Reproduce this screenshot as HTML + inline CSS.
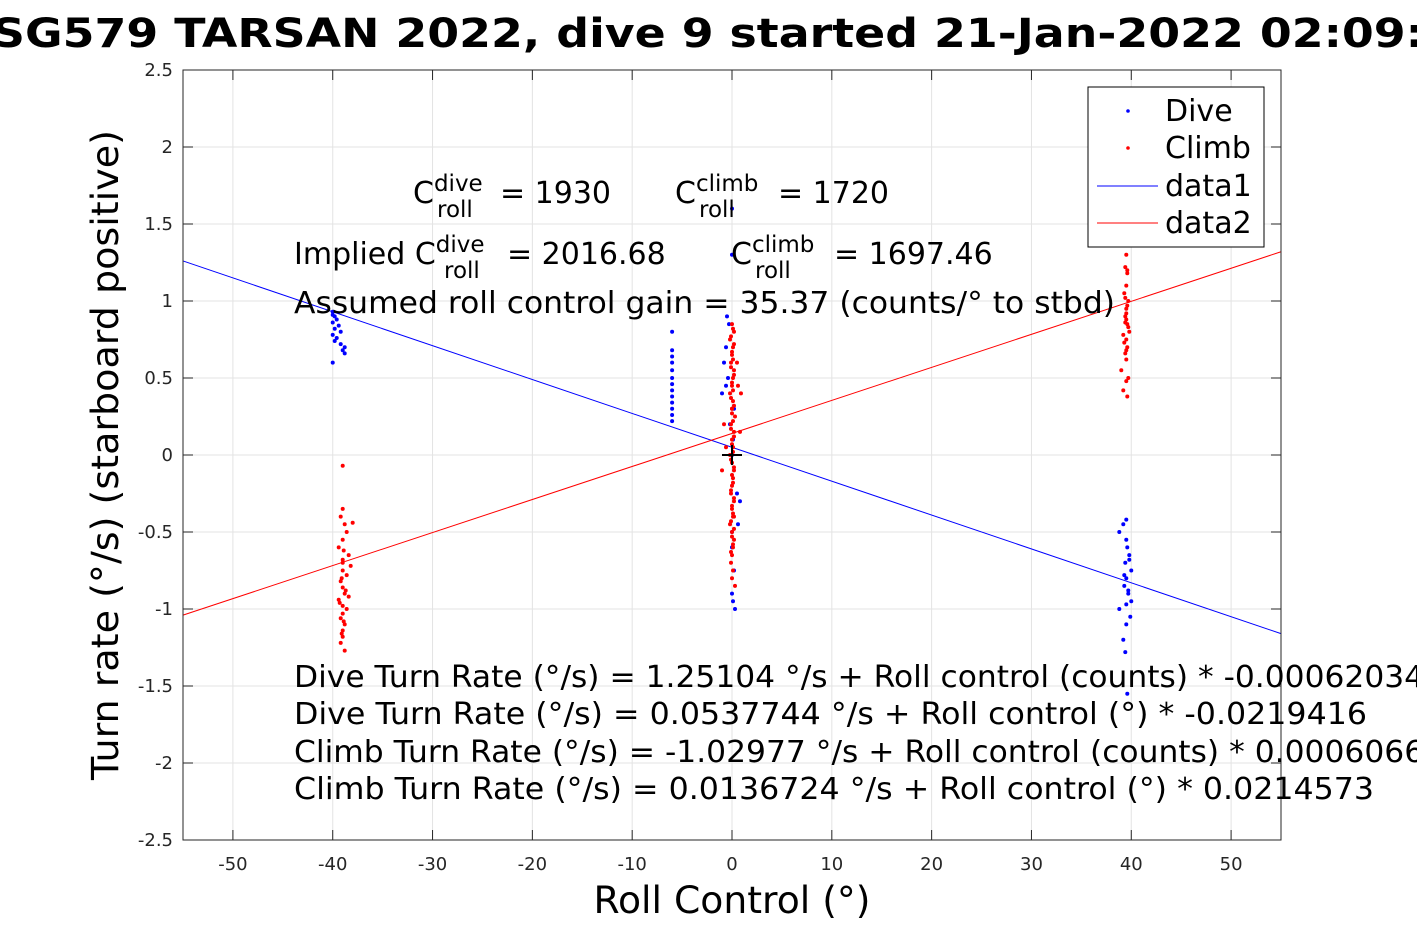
<!DOCTYPE html>
<html><head><meta charset="utf-8"><style>
html,body{margin:0;padding:0;background:#fff;}
svg{display:block;font-family:"DejaVu Sans","Liberation Sans",sans-serif;}
</style></head><body>
<svg id="chart" width="1417" height="945" viewBox="0 0 1417 945" xmlns="http://www.w3.org/2000/svg">
<rect width="1417" height="945" fill="#fff"/>
<text x="-8" y="47" font-size="40" font-weight="bold" fill="#000" textLength="1432" lengthAdjust="spacingAndGlyphs">SG579 TARSAN 2022, dive 9 started 21-Jan-2022 02:09:</text>
<g id="grid"></g>
<g id="lines"></g>
<g id="points"></g>
<g id="axes"></g>
<g font-size="30" fill="#000">
<text x="413" y="203">C<tspan font-size="23" dy="-12">dive</tspan><tspan font-size="23" x="437" dy="26">roll</tspan><tspan x="500" dy="-14">= 1930</tspan></text>
<text x="675" y="203">C<tspan font-size="23" dy="-12">climb</tspan><tspan font-size="23" x="699" dy="26">roll</tspan><tspan x="778" dy="-14">= 1720</tspan></text>
<text x="294" y="264">Implied C<tspan font-size="23" dy="-12">dive</tspan><tspan font-size="23" x="444" dy="26">roll</tspan><tspan x="507" dy="-14">= 2016.68</tspan></text>
<text x="731" y="264">C<tspan font-size="23" dy="-12">climb</tspan><tspan font-size="23" x="755" dy="26">roll</tspan><tspan x="834" dy="-14">= 1697.46</tspan></text>
<text x="294" y="313" textLength="821" lengthAdjust="spacingAndGlyphs">Assumed roll control gain = 35.37 (counts/° to stbd)</text>
<text x="294" y="687" textLength="1150" lengthAdjust="spacingAndGlyphs">Dive Turn Rate (°/s) = 1.25104 °/s + Roll control (counts) * -0.000620348</text>
<text x="294" y="724" textLength="1073" lengthAdjust="spacingAndGlyphs">Dive Turn Rate (°/s) = 0.0537744 °/s + Roll control (°) * -0.0219416</text>
<text x="294" y="762" textLength="1170" lengthAdjust="spacingAndGlyphs">Climb Turn Rate (°/s) = -1.02977 °/s + Roll control (counts) * 0.000606652</text>
<text x="294" y="799" textLength="1080" lengthAdjust="spacingAndGlyphs">Climb Turn Rate (°/s) = 0.0136724 °/s + Roll control (°) * 0.0214573</text>
</g>
<g>
<rect x="1088" y="87" width="176" height="160" fill="#fff" stroke="#000" stroke-width="1"/>
<circle cx="1128" cy="111" r="1.8" fill="#00f"/><text x="1165" y="121" font-size="30">Dive</text>
<circle cx="1128" cy="148" r="1.8" fill="#f00"/><text x="1165" y="158" font-size="30">Climb</text>
<line x1="1097" y1="186" x2="1158" y2="186" stroke="#00f"/><text x="1165" y="196" font-size="30">data1</text>
<line x1="1097" y1="223" x2="1158" y2="223" stroke="#f00"/><text x="1165" y="233" font-size="30">data2</text>
</g>
<text x="732" y="913" font-size="37" text-anchor="middle" textLength="277" lengthAdjust="spacingAndGlyphs">Roll Control (°)</text>
<text transform="translate(118,455) rotate(-90)" font-size="37" text-anchor="middle" textLength="650" lengthAdjust="spacingAndGlyphs">Turn rate (°/s) (starboard positive)</text>
</svg>
<script>
const xTicks=[-50,-40,-30,-20,-10,0,10,20,30,40,50];
const yTicks=[-2.5,-2,-1.5,-1,-0.5,0,0.5,1,1.5,2,2.5];
const diveFit=[0.05,-0.022];
const climbFit=[0.14,0.02145];
const diveX=[-40,-40,-39.8,-39.6,-40,-39.4,-39.8,-39.2,-40,-39.6,-39.8,-39.2,-38.8,-39,-38.8,-40,
-6,-6,-6,-6,-6,-6,-6,-6,-6,-6,-6,-6,-6,
0,0,-0.5,-0.3,-0.6,-0.8,-0.4,-0.6,-1,0.2,-0.2,0.1,0,0.5,0.8,0.6,0,0.2,0,0.1,0.3,0,
39.5,39.2,38.8,39.5,39.6,39.8,39.4,40,39.5,39.3,39.7,40,38.8,39.9,39.5,39.2,39.4,39.6,39.3,39.7,39.5,39.8];
const diveY=[0.93,0.91,0.9,0.88,0.86,0.84,0.82,0.8,0.78,0.76,0.74,0.72,0.7,0.68,0.66,0.6,
0.8,0.68,0.64,0.6,0.55,0.5,0.46,0.42,0.38,0.34,0.3,0.26,0.22,
1.6,1.3,0.9,0.85,0.7,0.6,0.5,0.45,0.4,0.3,0.2,0.1,0.0,-0.25,-0.3,-0.45,-0.6,-0.75,-0.9,-0.95,-1.0,-0.5,
-0.42,-0.45,-0.5,-0.55,-0.6,-0.65,-0.7,-0.75,-0.8,-0.85,-0.9,-0.95,-1.0,-1.05,-1.1,-1.2,-1.28,-1.55,-0.78,-0.88,-0.97,-0.68];
const climbX=[-39,-39,-39.2,-38.8,-38.6,-39,-38,-39.4,-38.4,-39,-38.2,-39,-38.6,-39.2,-39,-38.8,-39.4,-39,-38.6,-39,-39.2,-38.8,-39,-39,-38.4,-39.2,-38.8,-39,-38.9,-39.1,-38.7,-39.3,-38.9,-39.1,
0,0.2,-0.2,0.1,0,-0.1,0.2,0.1,0,-0.2,0.1,0,0.3,-0.1,0.2,0,0.1,-0.2,0,0.2,0.1,0,-0.1,0.2,0,0.1,-0.2,0,0.2,0.1,0,-0.1,0.1,0,0.3,0.6,0.9,-0.8,-1,0.5,-0.6,0.8,0.2,0,
0.1,-0.1,0.2,0,0.1,-0.1,0.2,0,0.1,-0.1,0.2,0,0.1,-0.1,0.2,0,0.1,-0.1,0.2,0,0.1,-0.1,0.2,0,0.1,-0.1,0.2,0,0.1,-0.1,
39.5,39.4,39.6,39.5,39.3,39.7,39.5,39.4,39.6,39.8,39.2,39.5,39.6,39.4,39.5,39,39.7,39.5,39.2,39.6,39.4,39.5,39.6,39.4,39.5,39.7,39.3,39.5,39.6];
const climbY=[-0.07,-0.35,-0.4,-0.45,-0.5,-0.55,-0.44,-0.6,-0.65,-0.68,-0.72,-0.75,-0.78,-0.82,-0.86,-0.9,-0.94,-0.98,-1.0,-1.03,-1.06,-1.1,-1.14,-1.18,-0.92,-1.22,-1.27,-0.7,-0.62,-0.8,-0.88,-0.96,-1.08,-1.16,
0.85,0.8,0.75,0.7,0.65,0.6,0.55,0.5,0.45,0.4,0.35,0.3,0.25,0.2,0.15,0.1,0.05,0.0,-0.05,-0.1,-0.15,-0.2,-0.25,-0.3,-0.35,-0.4,-0.45,-0.5,-0.55,-0.6,-0.65,-0.7,-0.75,-0.8,-0.85,0.45,0.4,0.2,-0.1,0.6,0.05,0.15,-0.4,0.3,
0.82,0.77,0.72,0.67,0.62,0.57,0.52,0.47,0.42,0.37,0.32,0.27,0.22,0.17,0.12,0.07,0.02,-0.03,-0.08,-0.13,-0.18,-0.23,-0.28,-0.33,-0.38,-0.43,-0.48,-0.53,-0.58,-0.63,
1.3,1.22,1.18,1.1,1.05,1.0,0.95,0.9,0.85,0.8,0.78,0.75,0.7,0.66,0.62,0.55,0.5,0.48,0.42,0.38,0.86,0.92,0.97,1.02,0.88,0.83,0.73,0.68,1.2];
const L=183,R=1281,T=70,B=840;
const sx=v=>L+(v+55)/110*(R-L);
const sy=v=>T+(2.5-v)/5*(B-T);
const NS="http://www.w3.org/2000/svg";
function mk(tag,attrs,parent){const e=document.createElementNS(NS,tag);for(const k in attrs)e.setAttribute(k,attrs[k]);parent.appendChild(e);return e;}
const grid=document.getElementById('grid'),axes=document.getElementById('axes');
xTicks.forEach(t=>{mk('line',{x1:sx(t),x2:sx(t),y1:T,y2:B,stroke:'#e3e3e3'},grid);
 mk('line',{x1:sx(t),x2:sx(t),y1:B,y2:B-10,stroke:'#262626'},axes);mk('line',{x1:sx(t),x2:sx(t),y1:T,y2:T+10,stroke:'#262626'},axes);
 const tx=mk('text',{x:sx(t),y:B+30,'font-size':18,'text-anchor':'middle',fill:'#262626'},axes);tx.textContent=t;
 
 });
yTicks.forEach(t=>{mk('line',{x1:L,x2:R,y1:sy(t),y2:sy(t),stroke:'#e3e3e3'},grid);
 mk('line',{x1:L,x2:L+10,y1:sy(t),y2:sy(t),stroke:'#262626'},axes);mk('line',{x1:R,x2:R-10,y1:sy(t),y2:sy(t),stroke:'#262626'},axes);
 const tx=mk('text',{x:L-10,y:sy(t)+6,'font-size':18,'text-anchor':'end',fill:'#262626'},axes);tx.textContent=t;
 
 });
const box=mk('rect',{x:L,y:T,width:R-L,height:B-T,fill:'none',stroke:'#262626'},axes);


const lines=document.getElementById('lines');
const l1=mk('line',{x1:sx(-55),y1:sy(diveFit[0]+diveFit[1]*-55),x2:sx(55),y2:sy(diveFit[0]+diveFit[1]*55),stroke:'#00f','stroke-width':1},lines);


const l2=mk('line',{x1:sx(-55),y1:sy(climbFit[0]+climbFit[1]*-55),x2:sx(55),y2:sy(climbFit[0]+climbFit[1]*55),stroke:'#f00','stroke-width':1},lines);


const pts=document.getElementById('points');
diveX.forEach((x,i)=>{const c=mk('circle',{cx:sx(x),cy:sy(diveY[i]),r:2,fill:'#00f'},pts);
 
 });
climbX.forEach((x,i)=>{const c=mk('circle',{cx:sx(x),cy:sy(climbY[i]),r:2,fill:'#f00'},pts);
 
 });
const p=mk('path',{d:`M${sx(0)-10},${sy(0)}H${sx(0)+10}M${sx(0)},${sy(0)-10}V${sy(0)+10}`,stroke:'#000','stroke-width':2},pts);


</script>
</body></html>
